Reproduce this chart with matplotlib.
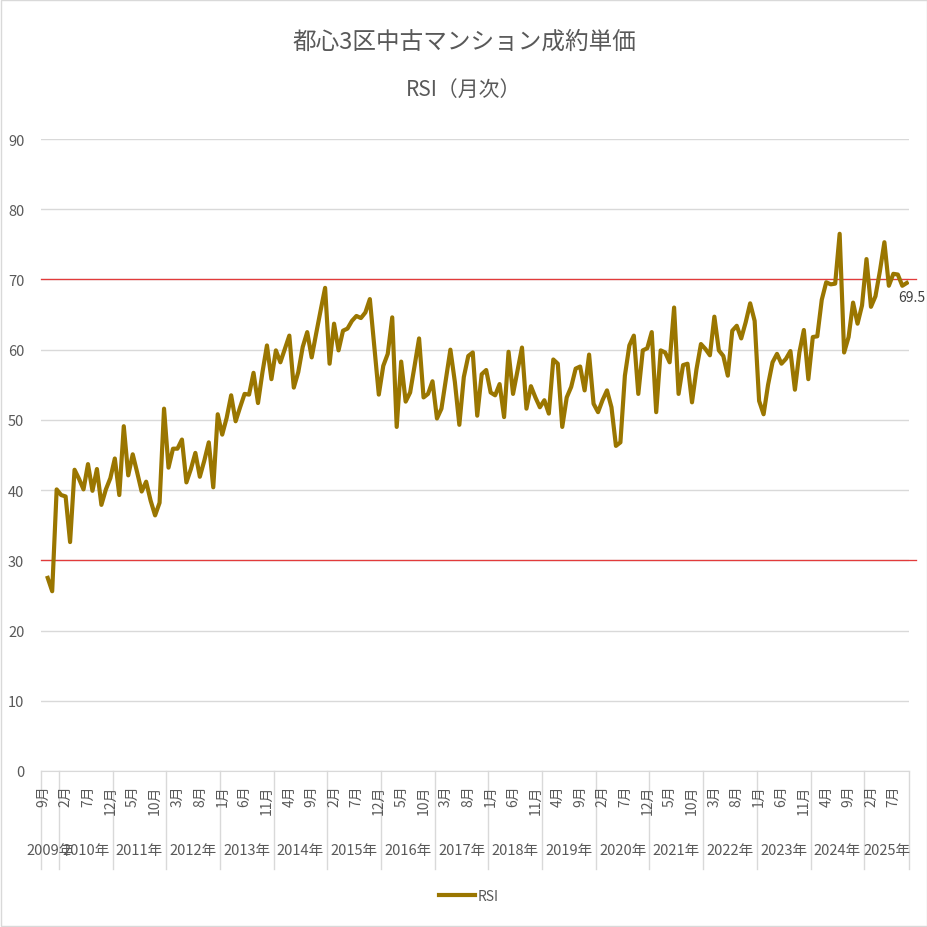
import numpy as np
import matplotlib
matplotlib.use("Agg")
from matplotlib import pyplot as plt
from matplotlib.patches import Rectangle
from matplotlib.lines import Line2D

plt.rcParams["font.family"] = ["Noto Sans CJK JP", "DejaVu Sans"]

title = "都心3区中古マンション成約単価"
subtitle = "RSI（月次）"
series_name = "RSI"

start_year = 2009
start_month = 9
# monthly RSI, 2009-09 .. 2025-10 (first month has no value)
rsi = [
    np.nan, 27.5, 25.6, 40.1,                                                # 2009
    39.3, 39.1, 32.6, 42.9, 41.6, 40.1, 43.7, 39.9, 43.0, 37.9, 40.1, 41.7,  # 2010
    44.5, 39.3, 49.1, 42.1, 45.1, 42.5, 39.8, 41.2, 38.5, 36.4, 38.2, 51.6,  # 2011
    43.2, 45.9, 45.9, 47.2, 41.1, 43.0, 45.3, 41.9, 44.2, 46.8, 40.4, 50.8,  # 2012
    47.9, 50.3, 53.5, 49.8, 51.8, 53.7, 53.6, 56.7, 52.4, 56.8, 60.6, 55.8,  # 2013
    59.9, 58.2, 60.1, 62.0, 54.6, 56.8, 60.4, 62.5, 58.9, 62.3, 65.6, 68.8,  # 2014
    58.0, 63.7, 59.9, 62.7, 63.0, 64.1, 64.8, 64.5, 65.3, 67.2, 60.4, 53.6,  # 2015
    57.7, 59.4, 64.6, 49.0, 58.3, 52.6, 53.9, 57.7, 61.6, 53.2, 53.7, 55.5,  # 2016
    50.2, 51.6, 55.8, 60.0, 55.4, 49.3, 56.1, 59.1, 59.6, 50.6, 56.5, 57.1,  # 2017
    53.9, 53.5, 55.1, 50.4, 59.7, 53.7, 57.0, 60.3, 51.6, 54.8, 53.2, 51.8,  # 2018
    52.8, 50.9, 58.6, 58.0, 49.0, 53.2, 54.7, 57.3, 57.6, 54.2, 59.3, 52.3,  # 2019
    51.1, 52.8, 54.2, 51.8, 46.3, 46.8, 56.3, 60.6, 62.0, 53.7, 59.9, 60.2,  # 2020
    62.5, 51.1, 59.9, 59.6, 58.2, 66.0, 53.7, 57.8, 58.0, 52.5, 57.2, 60.8,  # 2021
    60.1, 59.2, 64.7, 59.9, 59.1, 56.3, 62.7, 63.4, 61.6, 63.9, 66.6, 64.1,  # 2022
    52.7, 50.8, 55.0, 58.2, 59.4, 58.0, 58.7, 59.8, 54.3, 59.6, 62.8, 55.8,  # 2023
    61.8, 61.9, 67.1, 69.6, 69.3, 69.4, 76.5, 59.6, 61.8, 66.7, 63.7, 66.3,  # 2024
    72.9, 66.1, 67.6, 71.2, 75.3, 69.1, 70.8, 70.7, 69.1, 69.5,              # 2025
]
upper_level = 70
lower_level = 30
y_ticks = [0, 10, 20, 30, 40, 50, 60, 70, 80, 90]
label_every = 5

n = len(rsi)
x = np.arange(n)
months = [(start_month - 1 + i) % 12 + 1 for i in range(n)]
years = [start_year + (start_month - 1 + i) // 12 for i in range(n)]

grey_text = "#595959"
grid_col = "#d9d9d9"
line_col = "#9a7600"
red_col = "#e23b3b"

fig = plt.figure(figsize=(9.28, 9.28), dpi=100)
ax = fig.add_axes([41 / 928, 1 - 772 / 928, 868 / 928, 632 / 928])

ax.plot(x, rsi, color=line_col, lw=3.0, solid_joinstyle="round", zorder=3)
for lvl in (upper_level, lower_level):
    ax.plot([-0.5, n + 1.0], [lvl, lvl], color=red_col, lw=0.95, clip_on=False, zorder=2)

ax.annotate(f"{rsi[-1]:.1f}", (x[-1], rsi[-1]), xytext=(-6, -10), textcoords="offset points",
            ha="left", va="center", fontsize=10, color="#404040")

ax.set_xlim(-0.5, n - 0.5)
ax.set_ylim(0, 90)
ax.set_yticks(y_ticks)
ax.tick_params(axis="y", length=0, pad=12, labelsize=10.5, labelcolor=grey_text)
ax.set_xticks([])
ax.grid(axis="y", color=grid_col, lw=1.0)
ax.set_axisbelow(True)
for s in ("top", "right", "left"):
    ax.spines[s].set_visible(False)
ax.spines["bottom"].set_color(grid_col)

trans = ax.get_xaxis_transform()
# month labels
for i in range(0, n, label_every):
    ax.text(i, -0.021, f"{months[i]}月", transform=trans, rotation=90, ha="center", va="top",
            fontsize=10, color=grey_text)
# year separators and labels
bounds = [-0.5] + [i - 0.5 for i in range(1, n) if months[i] == 1] + [n - 0.5]
for b in bounds:
    ax.plot([b, b], [0, -0.155], transform=trans, color=grid_col, lw=1.0, clip_on=False)
for a, b in zip(bounds[:-1], bounds[1:]):
    yr = years[int(a + 0.5)]
    ax.text((a + b) / 2, -0.125, f"{yr}年", transform=trans, ha="center", va="center",
            fontsize=10.5, color=grey_text)

fig.text(0.5, 1 - 42 / 928, title, ha="center", va="center", fontsize=17, color=grey_text)
fig.text(0.5, 1 - 90 / 928, subtitle, ha="center", va="center", fontsize=15, color=grey_text)

handle = Line2D([], [], color=line_col, lw=3.0)
fig.legend([handle], [series_name], loc="center", bbox_to_anchor=(0.505, 1 - 897 / 928),
           frameon=False, fontsize=10, labelcolor=grey_text, handlelength=2.6, handletextpad=0.2)

fig.add_artist(Rectangle((0.001, 0.001), 0.998, 0.998, transform=fig.transFigure,
                         fill=False, edgecolor=grid_col, lw=1.0))

fig.savefig("out.png", dpi=100)
